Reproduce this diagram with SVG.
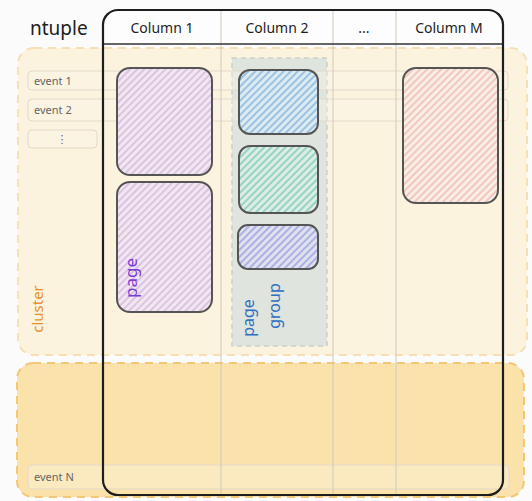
<svg xmlns="http://www.w3.org/2000/svg" width="532" height="501" viewBox="0 0 532 501">
  <defs>
    <pattern id="hPurple" patternUnits="userSpaceOnUse" width="5" height="5" patternTransform="rotate(45)">
      <rect width="5" height="5" fill="#f3e7ef"/>
      <line x1="1" y1="0" x2="1" y2="5" stroke="#c3a2d8" stroke-width="1"/>
    </pattern>
    <pattern id="hBlue" patternUnits="userSpaceOnUse" width="5" height="5" patternTransform="rotate(45)">
      <rect width="5" height="5" fill="#dcebf1"/>
      <line x1="1" y1="0" x2="1" y2="5" stroke="#5b9ad3" stroke-width="1"/>
    </pattern>
    <pattern id="hTeal" patternUnits="userSpaceOnUse" width="5" height="5" patternTransform="rotate(45)">
      <rect width="5" height="5" fill="#dcede5"/>
      <line x1="1" y1="0" x2="1" y2="5" stroke="#52b9a0" stroke-width="1"/>
    </pattern>
    <pattern id="hIndigo" patternUnits="userSpaceOnUse" width="5" height="5" patternTransform="rotate(45)">
      <rect width="5" height="5" fill="#dfe1ef"/>
      <line x1="1" y1="0" x2="1" y2="5" stroke="#7a7fd8" stroke-width="1"/>
    </pattern>
    <pattern id="hRed" patternUnits="userSpaceOnUse" width="5" height="5" patternTransform="rotate(45)">
      <rect width="5" height="5" fill="#f9eee4"/>
      <line x1="1" y1="0" x2="1" y2="5" stroke="#eba0a0" stroke-width="1"/>
    </pattern>
  </defs>
  <style>
    text { font-family: "Noto Sans", "DejaVu Sans", sans-serif; }
    .cluster1 { fill: #fcf3df; stroke: #f6dfb4; stroke-width: 2; stroke-dasharray: 8 6; }
    .cluster2 { fill: #fbe2aa; stroke: #f4c677; stroke-width: 2; stroke-dasharray: 8 6; }
    .row { fill: #fbf6ea; fill-opacity: 0.35; stroke: #e2dac9; stroke-width: 1; }
    .col { stroke: #cfc9bc; stroke-width: 1; }
    .page { stroke: #555555; stroke-width: 2; }
    .hdr { font-size: 14px; fill: #1e1e1e; text-anchor: middle; }
    .ev { font-size: 11px; fill: #666666; }
  </style>
  <rect x="0" y="0" width="532" height="501" fill="#fbfbfc"/>

  <g id="cluster">
    <rect class="cluster1" x="18" y="48" width="509" height="307" rx="16"/>
    <text x="0" y="0" transform="translate(43,309) rotate(-90)" font-size="15" fill="#e8912d" text-anchor="middle">cluster</text>
  </g>
  <g id="cluster-last">
    <rect class="cluster2" x="17" y="363" width="507" height="134" rx="16"/>
  </g>

  <g id="page-group">
    <rect x="232" y="58" width="95" height="288" fill="#dfe4de" stroke="#c9d1c9" stroke-width="1.5" stroke-dasharray="5 4"/>
    <text transform="translate(254,318) rotate(-90)" font-size="16" fill="#2f6fc0" text-anchor="middle">page</text>
    <text transform="translate(280,306) rotate(-90)" font-size="16" fill="#2f6fc0" text-anchor="middle">group</text>
  </g>

  <g id="events">
    <g id="event-1">
      <rect class="row" x="28" y="71" width="480" height="19" rx="4"/>
      <text class="ev" x="34" y="85">event 1</text>
    </g>
    <g id="event-2">
      <rect class="row" x="28" y="99" width="480" height="22" rx="4"/>
      <text class="ev" x="34" y="114">event 2</text>
    </g>
    <g id="event-dots">
      <rect class="row" x="28" y="130" width="69" height="18" rx="4"/>
      <text class="ev" x="62" y="143" text-anchor="middle">⋮</text>
    </g>
    <g id="event-N">
      <rect class="row" x="28" y="465" width="481" height="24" rx="4"/>
      <text class="ev" x="34" y="481">event N</text>
    </g>
  </g>

  <g id="connectors">
    <line class="col" x1="221" y1="10" x2="221" y2="495"/>
    <line class="col" x1="333" y1="10" x2="333" y2="495"/>
    <line class="col" x1="396" y1="10" x2="396" y2="495"/>
  </g>

  <g id="pages">
    <g id="page-c1-a"><rect class="page" x="117" y="68" width="95" height="107" rx="13" fill="url(#hPurple)"/></g>
    <g id="page-c1-b">
      <rect class="page" x="117" y="182" width="95" height="130" rx="13" fill="url(#hPurple)"/>
      <text transform="translate(137,278) rotate(-90)" font-size="17" fill="#7a3bd6" text-anchor="middle">page</text>
    </g>
    <g id="page-c2-a"><rect class="page" x="239" y="70" width="79" height="64" rx="11" fill="url(#hBlue)"/></g>
    <g id="page-c2-b"><rect class="page" x="239" y="146" width="79" height="67" rx="11" fill="url(#hTeal)"/></g>
    <g id="page-c2-c"><rect class="page" x="238" y="225" width="80" height="44" rx="10" fill="url(#hIndigo)"/></g>
    <g id="page-cM"><rect class="page" x="403" y="68" width="95" height="135" rx="13" fill="url(#hRed)"/></g>
  </g>

  <g id="ntuple-table">
    <path d="M103 44 L503 44 L503 24 Q503 10 489 10 L118 10 Q103 10 103 25 Z" fill="#fdfdfd"/>
    <line class="col" x1="221" y1="10" x2="221" y2="44"/>
    <line class="col" x1="333" y1="10" x2="333" y2="44"/>
    <line class="col" x1="396" y1="10" x2="396" y2="44"/>
    <line x1="103" y1="44" x2="503" y2="44" stroke="#333333" stroke-width="1.5"/>
    <rect x="103" y="10" width="400" height="485" rx="15" fill="none" stroke="#1e1e1e" stroke-width="2.2"/>
    <text x="30" y="35" font-size="19" fill="#1e1e1e">ntuple</text>
    <text class="hdr" x="162" y="33">Column 1</text>
    <text class="hdr" x="277" y="33">Column 2</text>
    <text class="hdr" x="364" y="33">...</text>
    <text class="hdr" x="449" y="33">Column M</text>
  </g>
</svg>
